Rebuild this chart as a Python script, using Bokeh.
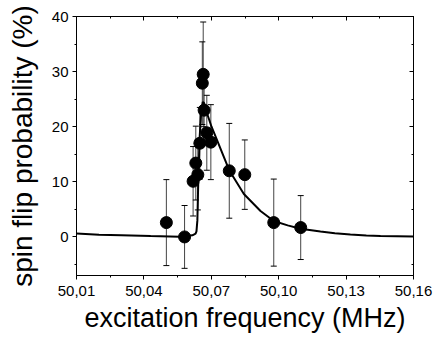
from bokeh.plotting import figure
from bokeh.models import (ColumnDataSource, Whisker, TeeHead, FixedTicker,
                          LinearAxis, Range1d)
from bokeh.embed import file_html
from bokeh.resources import INLINE

# ---- data ----
freq = [50.0500, 50.0581, 50.0619, 50.0631, 50.0640, 50.0649, 50.0660,
        50.0664, 50.0668, 50.0680, 50.0698, 50.0780, 50.0849, 50.0978, 50.1098]
prob = [2.6, 0.0, 10.1, 13.4, 11.3, 17.0, 27.9,
        29.5, 23.0, 18.9, 17.2, 12.0, 11.3, 2.6, 1.7]
err = [7.8, 5.7, 6.3, 6.7, 6.4, 6.5, 7.5,
       9.5, 6.0, 6.8, 6.8, 8.6, 6.3, 7.9, 5.8]

fit_freq = [50.010, 50.020, 50.030, 50.043, 50.056, 50.0616, 50.0630,
            50.0634, 50.0638, 50.0642, 50.0648, 50.0655, 50.0662, 50.0668,
            50.0682, 50.0701, 50.0726, 50.0781, 50.0845, 50.0919, 50.0978,
            50.1040, 50.1097, 50.1186, 50.1250, 50.1319, 50.1390, 50.1453,
            50.1600]
fit_prob = [0.6, 0.4, 0.3, 0.15, 0.05, 0.3, 0.6,
            1.0, 3.0, 10.0, 18.0, 22.5, 24.5, 24.3,
            22.3, 20.0, 17.5, 12.0, 7.8, 4.7, 2.9,
            2.1, 1.5, 1.0, 0.65, 0.42, 0.26, 0.17,
            0.06]

x_ticks = [50.01, 50.04, 50.07, 50.10, 50.13, 50.16]
x_tick_labels = ["50,01", "50,04", "50,07", "50,10", "50,13", "50,16"]
x_minor = [50.025, 50.055, 50.085, 50.115, 50.145]
y_ticks = [0, 10, 20, 30, 40]
y_minor = [-5, 5, 15, 25, 35]

FONT = "Liberation Sans"

p = figure(frame_width=337, frame_height=259, output_backend="svg",
           toolbar_location=None,
           x_range=Range1d(50.01, 50.16), y_range=Range1d(-7, 40),
           min_border_left=76, min_border_right=20, min_border_top=16,
           min_border_bottom=64)
p.xgrid.visible = False
p.ygrid.visible = False
p.outline_line_color = "black"
p.outline_line_width = 1

src = ColumnDataSource(dict(x=freq, y=prob,
                            lo=[a - b for a, b in zip(prob, err)],
                            hi=[a + b for a, b in zip(prob, err)]))

p.line(fit_freq, fit_prob, line_color="black", line_width=2)

wh = Whisker(source=src, base="x", lower="lo", upper="hi",
             line_color="#444444", line_width=1,
             upper_head=TeeHead(size=6, line_color="black", line_width=1),
             lower_head=TeeHead(size=6, line_color="black", line_width=1))
p.add_layout(wh)

p.scatter("x", "y", source=src, size=12, color="black")

xt = FixedTicker(ticks=x_ticks, minor_ticks=x_minor)
yt = FixedTicker(ticks=y_ticks, minor_ticks=y_minor)

for ax in p.xaxis:
    ax.ticker = xt
    ax.major_label_overrides = {t: l for t, l in zip(x_ticks, x_tick_labels)}
    ax.axis_label = "excitation frequency (MHz)"
    ax.axis_label_text_font_size = "27px"
for ax in p.yaxis:
    ax.ticker = yt
    ax.axis_label = "spin flip probability (%)"
    ax.axis_label_text_font_size = "28px"

for ax in list(p.xaxis) + list(p.yaxis):
    ax.major_tick_in = 0
    ax.major_tick_out = 4
    ax.minor_tick_in = 0
    ax.minor_tick_out = 2
    ax.axis_line_color = "black"
    ax.major_tick_line_color = "black"
    ax.minor_tick_line_color = "black"
    ax.major_label_text_font = FONT
    ax.major_label_text_font_size = "15px"
    ax.major_label_text_color = "black"
    ax.axis_label_text_font = FONT
    ax.axis_label_text_font_style = "normal"
    ax.axis_label_text_color = "black"

p.xaxis.major_label_standoff = 6
p.xaxis.axis_label_standoff = 4
p.yaxis.major_label_standoff = 4
p.yaxis.axis_label_standoff = 11

top = LinearAxis(ticker=xt, major_tick_in=4, major_tick_out=0,
                 minor_tick_in=2, minor_tick_out=0,
                 major_label_overrides={t: "" for t in x_ticks},
                 major_label_standoff=0)
right = LinearAxis(ticker=yt, major_tick_in=4, major_tick_out=0,
                   minor_tick_in=2, minor_tick_out=0,
                   major_label_overrides={t: "" for t in y_ticks},
                   major_label_standoff=0)
p.add_layout(top, "above")
p.add_layout(right, "right")

open("out.html", "w").write(file_html(p, INLINE))
